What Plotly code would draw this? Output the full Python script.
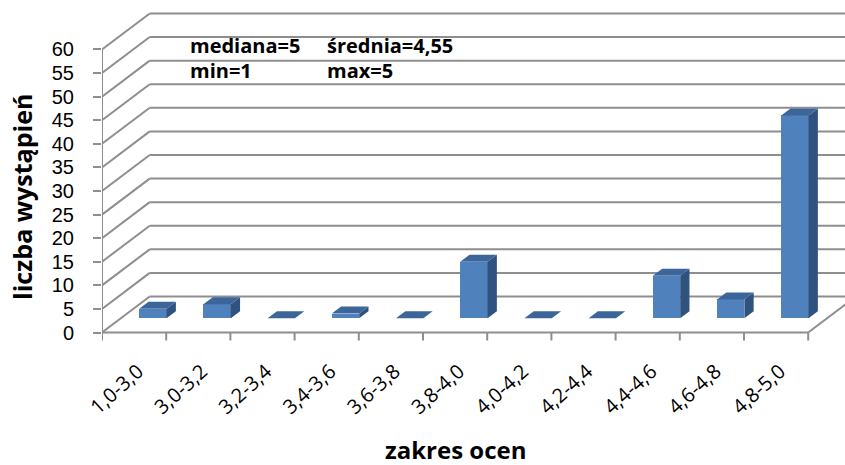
import plotly.graph_objects as go

# ---- data ----
categories = ["1,0-3,0", "3,0-3,2", "3,2-3,4", "3,4-3,6", "3,6-3,8", "3,8-4,0",
              "4,0-4,2", "4,2-4,4", "4,4-4,6", "4,6-4,8", "4,8-5,0"]
counts = [2, 3, 0, 1, 0, 12, 0, 0, 9, 4, 43]
y_ticks = list(range(0, 61, 5))
stats_left = ["mediana=5", "min=1"]
stats_right = ["średnia=4,55", "max=5"]

# ---- geometry (pixel layout of the pseudo-3D frame) ----
W, H = 845, 465
plot_l, plot_r, plot_t, plot_b = 102, 845, 0, 345
ppc = 64.2            # pixels per category
ppu = 4.717           # pixels per count unit
y0_px = 332.5
x_range = [0, (plot_r - plot_l) / ppc]
y_range = [-(plot_b - y0_px) / ppu, (y0_px - plot_t) / ppu]

dxw, dyw = 47.7 / ppc, 36 / ppu        # wall depth offset
dxb, dyb = 18.8 / ppc, 14.2 / ppu      # bar position inside depth
dxd, dyd = 9.3 / ppc, 7.0 / ppu        # bar depth
bw = 0.426
n = len(categories)

grid_col = "#8E8E8E"
front_col = "#4F81BD"
top_col = "#3C6699"
side_col = "#30527F"

fig = go.Figure()
shapes = []
line = dict(color=grid_col, width=2)

# back-wall gridlines + left-wall diagonals
for v in y_ticks:
    shapes.append(dict(type="line", xref="x", yref="y", x0=dxw, y0=v + dyw,
                       x1=x_range[1] + 1, y1=v + dyw, line=line, layer="below"))
    shapes.append(dict(type="line", xref="x", yref="y", x0=0, y0=v,
                       x1=dxw, y1=v + dyw, line=line, layer="below"))
# left front vertical axis
shapes.append(dict(type="line", xref="x", yref="y", x0=0, y0=0, x1=0, y1=y_ticks[-1],
                   line=line, layer="below"))
# floor front edge and right edge
shapes.append(dict(type="line", xref="x", yref="y", x0=0, y0=0, x1=n, y1=0,
                   line=line, layer="below"))
shapes.append(dict(type="line", xref="x", yref="y", x0=n, y0=0, x1=n + dxw, y1=dyw,
                   line=line, layer="below"))
# category tick marks
for i in range(n + 1):
    shapes.append(dict(type="line", xref="x", yref="y", x0=i, y0=0, x1=i, y1=-8 / ppu,
                       line=line, layer="below"))

# bars: front faces
xc = [i + 0.5 + dxb for i in range(n)]
fig.add_trace(go.Bar(x=xc, y=counts, base=[dyb] * n, width=bw,
                     marker=dict(color=front_col, line=dict(width=0)),
                     hoverinfo="skip", showlegend=False))
# side and top faces
for i, v in enumerate(counts):
    xl, xr = xc[i] - bw / 2, xc[i] + bw / 2
    b, t = dyb, dyb + v
    if v > 0:
        fig.add_trace(go.Scatter(
            x=[xr, xr + dxd, xr + dxd, xr, xr],
            y=[b, b + dyd, t + dyd, t, b],
            fill="toself", fillcolor=side_col, mode="lines",
            line=dict(width=0, color=side_col), hoverinfo="skip", showlegend=False))
    fig.add_trace(go.Scatter(
        x=[xl, xl + dxd, xr + dxd, xr, xl],
        y=[t, t + dyd, t + dyd, t, t],
        fill="toself", fillcolor=top_col, mode="lines",
        line=dict(width=0, color=top_col), hoverinfo="skip", showlegend=False))

font = "'Open Sans', Lato, sans-serif"

def px_x(p):
    return (p - plot_l) / (plot_r - plot_l)

def px_y(p):
    return 1 - (p - plot_t) / (plot_b - plot_t)

annotations = []
for j, (a, b) in enumerate(zip(stats_left, stats_right)):
    ypx = 46 + j * 25
    annotations.append(dict(text=a, xref="paper", yref="paper", x=px_x(188), y=px_y(ypx),
                            xanchor="left", yanchor="middle", showarrow=False,
                            font=dict(family=font, size=20, color="black", weight="bold")))
    annotations.append(dict(text=b, xref="paper", yref="paper", x=px_x(325), y=px_y(ypx),
                            xanchor="left", yanchor="middle", showarrow=False,
                            font=dict(family=font, size=20, color="black", weight="bold")))
annotations.append(dict(text="liczba wystąpień", xref="paper", yref="paper",
                        x=px_x(22), y=px_y(197), xanchor="center", yanchor="middle",
                        textangle=-90, showarrow=False,
                        font=dict(family=font, size=25, color="black", weight="bold")))
annotations.append(dict(text="zakres ocen", xref="paper", yref="paper",
                        x=px_x(455), y=px_y(449), xanchor="center", yanchor="middle",
                        showarrow=False,
                        font=dict(family=font, size=24, color="black", weight="bold")))

fig.update_layout(
    width=W, height=H,
    margin=dict(l=plot_l, r=W - plot_r, t=plot_t, b=H - plot_b, pad=0),
    paper_bgcolor="white", plot_bgcolor="white",
    shapes=shapes, annotations=annotations, bargap=0,
    xaxis=dict(range=x_range, showgrid=False, zeroline=False, showline=False,
               tickmode="array", tickvals=[i + 0.56 for i in range(n)], ticktext=categories,
               tickangle=-42, ticks="", ticklabelstandoff=10,
               tickfont=dict(family=font, size=20, color="black"),
               fixedrange=True),
    yaxis=dict(range=y_range, showgrid=False, zeroline=False, showline=False,
               tickmode="array", tickvals=y_ticks, ticktext=[str(v) for v in y_ticks],
               ticks="outside", ticklen=8, tickwidth=2, tickcolor=grid_col,
               ticklabelstandoff=15,
               tickfont=dict(family="'Liberation Sans', Arial, sans-serif", size=20,
                             color="black"), fixedrange=True),
)

fig.write_html("out.html", config={"displayModeBar": False},
               post_script="document.body.style.margin='0';")
